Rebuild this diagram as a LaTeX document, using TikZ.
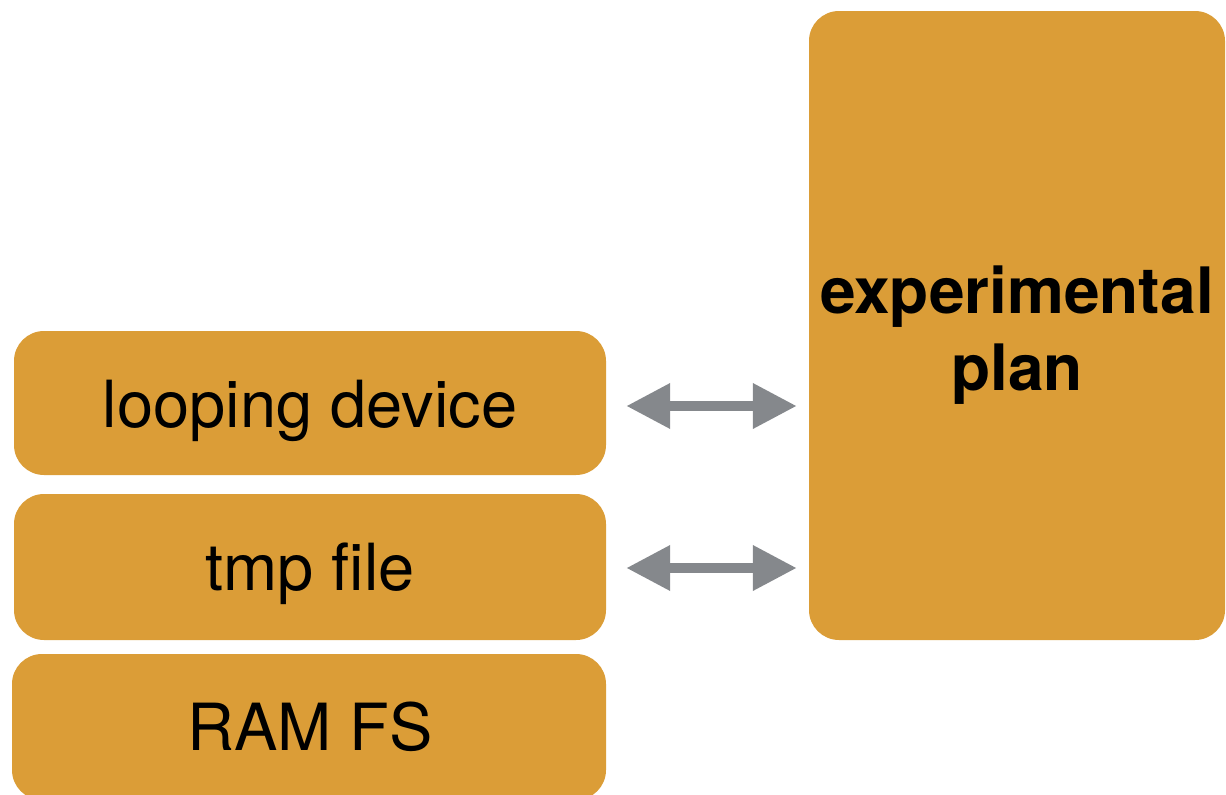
\documentclass[tikz,border=0pt]{standalone}
\usepackage{fontspec}
\setmainfont{TeX Gyre Heros}
\usetikzlibrary{arrows.meta}
\definecolor{boxorange}{HTML}{DB9D37}
\definecolor{arrgray}{HTML}{85888C}
\tikzset{
  box/.style={fill=boxorange, draw=none, rounded corners=30pt, inner sep=0pt},
  lbl/.style={anchor=base, inner sep=0pt, font=\fontsize{65}{78}\selectfont, text=black},
  plbl/.style={anchor=base, inner sep=0pt, font=\fontsize{64}{77}\selectfont\bfseries, text=black},
  arr/.style={line width=10pt, draw=arrgray, {Triangle[length=44pt,width=43pt]}-{Triangle[length=44pt,width=43pt]}}
}
\begin{document}
\begin{tikzpicture}[x=1pt,y=-1pt]
\useasboundingbox (0,0) rectangle (1226,795);
\clip (0,0) rectangle (1226,795);
\node[box, minimum width=592pt, minimum height=144pt] (loop) at (310,403) {};
\node[box, minimum width=592pt, minimum height=146pt] (tmp) at (310,567) {};
\node[box, minimum width=594pt, minimum height=146pt] (ram) at (309,727) {};
\node[box, minimum width=416pt, minimum height=629pt] (plan) at (1017,325.5) {};
\node[lbl] (looptxt) at (310,427) {looping device};
\node[lbl] (tmptxt) at (310,590) {tmp file};
\node[lbl] (ramtxt) at (310,750) {RAM FS};
\node[plbl] (exptxt) at (1017,313) {experimental};
\node[plbl] (plantxt) at (1017,390) {plan};
\draw[arr] ([xshift=20pt,yshift=-3pt]loop.east) -- ([xshift=-12pt,yshift=-3pt]plan.west |- loop.east);
\draw[arr] ([xshift=20pt,yshift=-1pt]tmp.east) -- ([xshift=-12pt,yshift=-1pt]plan.west |- tmp.east);
\end{tikzpicture}
\end{document}
